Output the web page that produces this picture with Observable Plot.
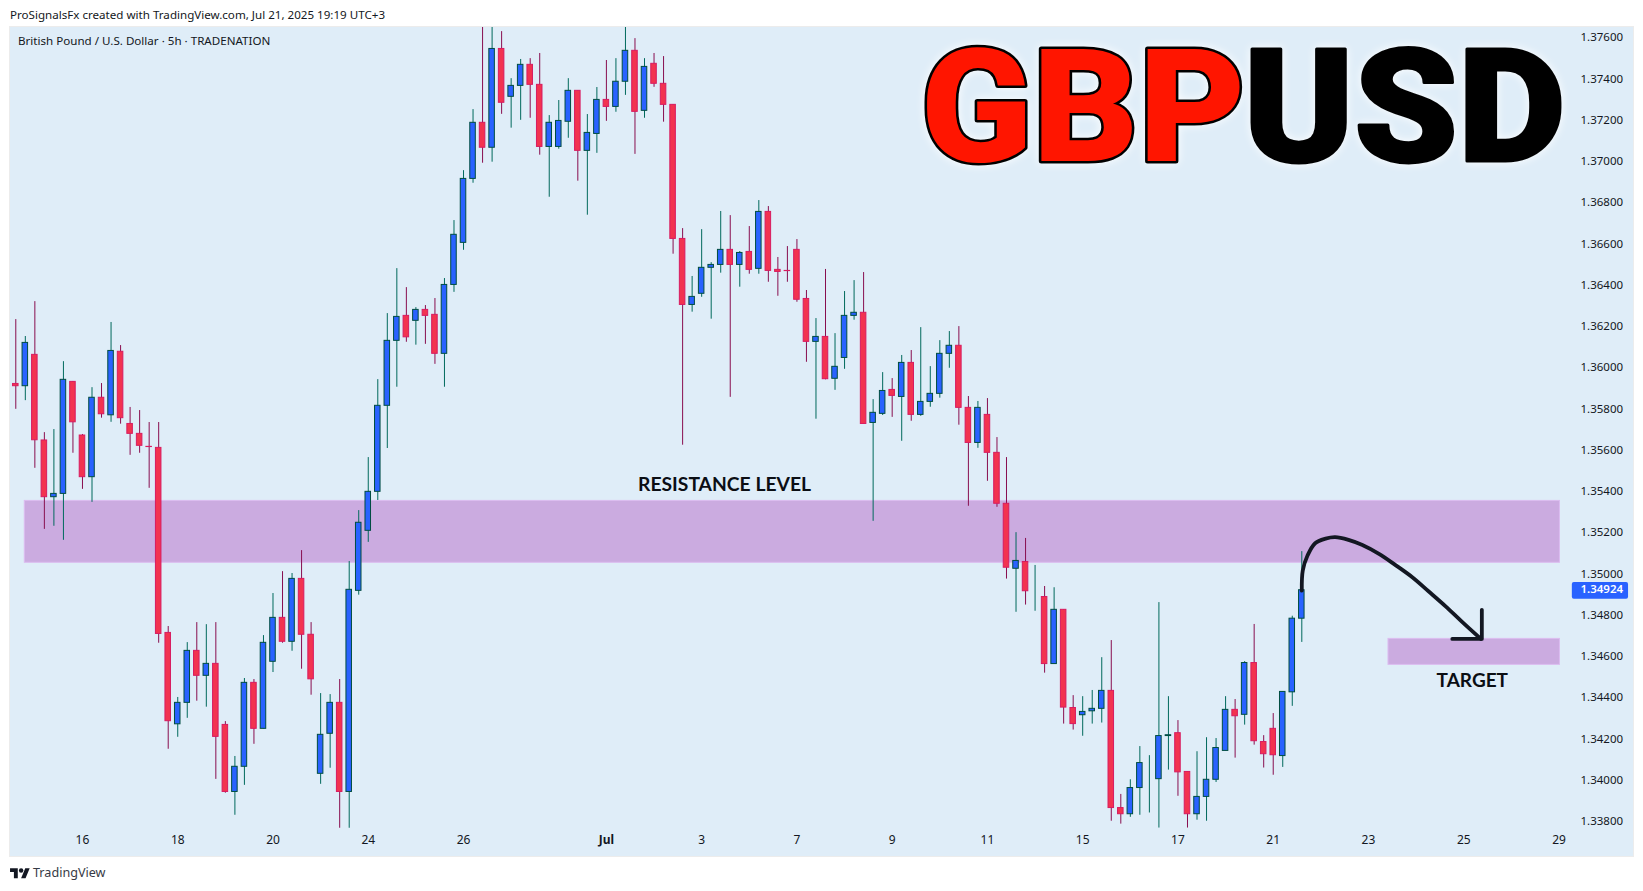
<!DOCTYPE html>
<html>
<head>
<meta charset="utf-8">
<script src="https://cdn.jsdelivr.net/npm/d3@7"></script>
<script src="https://cdn.jsdelivr.net/npm/@observablehq/plot@0.6"></script>
<style>
html,body{margin:0;padding:0;background:#fff;width:1643px;height:891px;overflow:hidden}
#head{position:absolute;left:10px;top:7px;font:11.6px "Noto Sans",sans-serif;color:#131722;white-space:nowrap}
#chart{position:absolute;left:10px;top:27px}
#chart svg{display:block;outline:1px solid #ececec}
#logo{position:absolute;left:10px;top:866px}
#foot{position:absolute;left:33px;top:864px;font:12.6px "Noto Sans",sans-serif;color:#363a45;white-space:nowrap}
</style>
</head>
<body>
<div id="head">ProSignalsFx created with TradingView.com, Jul 21, 2025 19:19 UTC+3</div>
<div id="chart"></div>
<svg id="logo" width="20" height="15.5" viewBox="0 0 36 28"><path fill="#131722" d="M14 22H7V11H0V4h14v18zM28 22h-8l7.5-18h8L28 22z"/><circle fill="#131722" cx="20" cy="8" r="4"/></svg>
<div id="foot">TradingView</div>
<script>
const high=[1.36236,1.36154,1.36323,1.35688,1.35703,1.36032,1.35936,1.35679,1.35906,1.35926,1.36222,1.36110,1.35810,1.35795,1.35737,1.35737,1.34748,1.34404,1.34670,1.34767,1.34757,1.34767,1.34287,1.34118,1.34496,1.34491,1.34704,1.34908,1.35014,1.35005,1.35116,1.34767,1.34423,1.34418,1.34491,1.35063,1.35310,1.35567,1.35945,1.36265,1.36483,1.36391,1.36294,1.36304,1.36338,1.36435,1.36716,1.36958,1.37254,1.37661,1.37676,1.37632,1.37404,1.37497,1.37501,1.37526,1.37225,1.37298,1.37404,1.37345,1.37230,1.37361,1.37492,1.37501,1.37652,1.37598,1.37501,1.37526,1.37511,1.37277,1.36677,1.36445,1.36672,1.36512,1.36760,1.36740,1.36566,1.36687,1.36813,1.36784,1.36537,1.36590,1.36624,1.36377,1.36241,1.36479,1.36168,1.36372,1.36425,1.36464,1.35848,1.35979,1.35950,1.36062,1.36086,1.36197,1.36008,1.36134,1.36178,1.36202,1.35863,1.35839,1.35853,1.35664,1.35567,1.35203,1.35175,1.35044,1.34942,1.34936,1.34829,1.34413,1.34408,1.34438,1.34597,1.34680,1.33934,1.34005,1.34166,1.34122,1.34864,1.34408,1.34292,1.34043,1.34141,1.34209,1.34205,1.34408,1.34394,1.34578,1.34758,1.34219,1.34326,1.34431,1.34798,1.35111];
const open=[1.35924,1.35913,1.36065,1.35650,1.35375,1.35391,1.35934,1.35674,1.35472,1.35857,1.35772,1.36080,1.35730,1.35682,1.35619,1.35614,1.34717,1.34274,1.34378,1.34630,1.34509,1.34567,1.34271,1.33946,1.34068,1.34475,1.34252,1.34577,1.34790,1.34674,1.34979,1.34708,1.34034,1.34228,1.34378,1.33946,1.34921,1.35212,1.35401,1.35818,1.36133,1.36254,1.36230,1.36283,1.36259,1.36070,1.36404,1.36608,1.36918,1.37190,1.37069,1.37548,1.37316,1.37369,1.37471,1.37374,1.37073,1.37073,1.37195,1.37345,1.37054,1.37136,1.37301,1.37267,1.37389,1.37539,1.37248,1.37476,1.37379,1.37277,1.36627,1.36307,1.36361,1.36487,1.36501,1.36574,1.36501,1.36564,1.36482,1.36758,1.36477,1.36472,1.36574,1.36336,1.36128,1.36152,1.35949,1.36050,1.36254,1.36269,1.35735,1.35779,1.35895,1.35861,1.36026,1.35774,1.35837,1.35876,1.36070,1.36109,1.35808,1.35638,1.35774,1.35590,1.35343,1.35028,1.35061,1.34890,1.34891,1.34566,1.34829,1.34353,1.34318,1.34337,1.34349,1.34436,1.33868,1.33838,1.33965,1.34008,1.34008,1.34217,1.34231,1.34043,1.33838,1.33922,1.34005,1.34145,1.34344,1.34320,1.34571,1.34188,1.34252,1.34120,1.34429,1.34786];
const close=[1.35913,1.36123,1.35651,1.35375,1.35391,1.35944,1.35738,1.35472,1.35857,1.35777,1.36084,1.35758,1.35682,1.35624,1.35618,1.34712,1.34289,1.34378,1.34630,1.34509,1.34567,1.34213,1.33946,1.34068,1.34475,1.34252,1.34669,1.34790,1.34674,1.34979,1.34708,1.34492,1.34223,1.34378,1.33946,1.34926,1.35251,1.35401,1.35818,1.36133,1.36249,1.36150,1.36283,1.36254,1.36070,1.36404,1.36647,1.36918,1.37190,1.37069,1.37548,1.37287,1.37369,1.37471,1.37374,1.37073,1.37190,1.37199,1.37345,1.37054,1.37141,1.37301,1.37267,1.37389,1.37539,1.37243,1.37461,1.37379,1.37277,1.36627,1.36307,1.36346,1.36487,1.36501,1.36574,1.36501,1.36559,1.36477,1.36758,1.36472,1.36467,1.36471,1.36332,1.36128,1.36152,1.35947,1.36007,1.36254,1.36269,1.35730,1.35784,1.35890,1.35866,1.36026,1.35774,1.35837,1.35876,1.36070,1.36109,1.35808,1.35638,1.35808,1.35590,1.35343,1.35033,1.35066,1.34919,1.34890,1.34566,1.34829,1.34355,1.34275,1.34334,1.34349,1.34436,1.33868,1.33838,1.33965,1.34086,1.34008,1.34217,1.34221,1.34041,1.33838,1.33922,1.34005,1.34159,1.34344,1.34313,1.34571,1.34192,1.34129,1.34124,1.34431,1.34786,1.34924];
const low=[1.35801,1.35843,1.35515,1.35219,1.35234,1.35166,1.35588,1.35413,1.35350,1.35758,1.35738,1.35729,1.35578,1.35588,1.35418,1.34667,1.34153,1.34211,1.34303,1.34386,1.34357,1.34007,1.33940,1.33833,1.33978,1.34177,1.34252,1.34525,1.34667,1.34628,1.34541,1.34415,1.33983,1.34061,1.33770,1.33770,1.34900,1.35156,1.35359,1.35611,1.35908,1.36126,1.36112,1.36116,1.36019,1.35908,1.36368,1.36572,1.36897,1.36994,1.36999,1.37231,1.37164,1.37202,1.37212,1.37033,1.36829,1.37062,1.37115,1.36907,1.36742,1.37042,1.37197,1.37241,1.37323,1.37037,1.37212,1.37362,1.37193,1.36553,1.35627,1.36272,1.36344,1.36238,1.36461,1.35859,1.36393,1.36456,1.36456,1.36417,1.36349,1.36417,1.36320,1.36029,1.35753,1.35944,1.35893,1.35995,1.36233,1.35730,1.35258,1.35771,1.35762,1.35646,1.35743,1.35767,1.35811,1.35855,1.36000,1.35724,1.35331,1.35612,1.35452,1.35326,1.34978,1.34817,1.34852,1.34822,1.34522,1.34566,1.34275,1.34246,1.34216,1.34275,1.34280,1.33804,1.33790,1.33823,1.33833,1.33844,1.33771,1.34052,1.33925,1.33771,1.33809,1.33804,1.33992,1.34145,1.34110,1.34270,1.34173,1.34062,1.34027,1.34065,1.34361,1.34671];
const yTicks=[1.338,1.34,1.342,1.344,1.346,1.348,1.35,1.352,1.354,1.356,1.358,1.36,1.362,1.364,1.366,1.368,1.37,1.372,1.374,1.376];
const xTickBars=[7,17,27,37,47,72,82,92,102,112,122,132,142,152,162];
const xTickNames=["16","18","20","24","26","3","7","9","11","15","17","21","23","25","29"];
const monthBar=[62];
const monthName=["Jul"];
const zoneBars=[0.945,162.1];
const resistance=[1.35357,1.35057];
const targetBars=[144.1,162.1];
const targetZone=[1.34688,1.34562];
const lastPrice=1.34924;
const tagBars=[163.4,169.3];
const tagPrices=[1.34961,1.34880];
const curveBars=[135,135.1,135.6,136.4,137.5,138.5,139.9,141.3,143.1,144.8,146.6,148.3,150.1,151.8,153.8];
const curvePrices=[1.34922,1.35019,1.35092,1.35152,1.35174,1.35181,1.35168,1.35144,1.351,1.35047,1.34987,1.34919,1.34846,1.34772,1.34688];
const headBars=[153.9,153.9,150.8];
const headPrices=[1.34829,1.34688,1.34688];

const bars=high.map((h,i)=>({i,high:h,low:low[i],open:open[i],close:close[i]}));
const up=bars.filter(d=>d.close>=d.open);
const down=bars.filter(d=>d.close<d.open);
const curve=curveBars.map((x,k)=>({x,y:curvePrices[k]}));
const head=headBars.map((x,k)=>({x,y:headPrices[k]}));
const half=0.29;
const ink="#131722";
const axisFont={fontFamily:"Noto Sans, sans-serif",fontSize:11.5,fill:ink};
const candle=(rows,wick,edge,body)=>[
  Plot.ruleX(rows,{x:"i",y1:"low",y2:"high",stroke:wick,strokeWidth:1,clip:true}),
  Plot.rect(rows,{x1:d=>d.i-half,x2:d=>d.i+half,y1:d=>Math.min(d.open,d.close),y2:d=>Math.max(d.open,d.close),fill:body,stroke:edge,strokeWidth:1,clip:true})
];
const band=(xs,ys)=>Plot.rect([0],{x1:()=>xs[0],x2:()=>xs[1],y1:()=>ys[1],y2:()=>ys[0],fill:"#cbabe0",stroke:"#dcbcf0",strokeWidth:1});
const chart=Plot.plot({
  width:1623,height:829,marginLeft:0,marginRight:74.5,marginTop:0,marginBottom:27,
  style:{background:"#dfedf8",overflow:"hidden"},
  x:{type:"linear",domain:[-0.556,162]},
  y:{type:"linear",domain:[1.33764,1.37652]},
  marks:[
    band(zoneBars,resistance),
    band(targetBars,targetZone),
    ...candle(up,"#00695c","#004d40","#2962ff"),
    ...candle(down,"#880e4f","#d81b60","#f23350"),
    Plot.axisY({anchor:"right",ticks:yTicks,tickSize:0,tickPadding:21.5,dy:-0.5,tickFormat:d=>d.toFixed(5),label:null,...axisFont}),
    Plot.axisX({ticks:xTickBars,tickSize:0,tickPadding:6,tickFormat:d=>xTickNames[xTickBars.indexOf(d)],label:null,...axisFont,fontSize:12}),
    Plot.axisX({ticks:monthBar,tickSize:0,tickPadding:6,tickFormat:()=>monthName[0],label:null,...axisFont,fontSize:12,fontWeight:"bold"}),
    Plot.rect([0],{x1:()=>tagBars[0],x2:()=>tagBars[1],y1:()=>tagPrices[1],y2:()=>tagPrices[0],fill:"#2962ff",rx:2,clip:false}),
    Plot.text([lastPrice.toFixed(5)],{x:()=>164.25,y:()=>lastPrice,dy:-1,text:d=>d,textAnchor:"start",fill:"#fff",fontFamily:"Noto Sans, sans-serif",fontSize:11.5,fontWeight:600}),
    Plot.text(["British Pound / U.S. Dollar · 5h · TRADENATION"],{frameAnchor:"top-left",dx:7.5,dy:9,text:d=>d,fontFamily:"Noto Sans, sans-serif",fontSize:11.6,fill:ink,textAnchor:"start"}),
    Plot.text(["RESISTANCE LEVEL"],{x:()=>74.4,y:()=>1.35433,text:d=>d,fontFamily:"Lato, sans-serif",fontSize:19.3,fontWeight:700,fill:"#0b0e14"}),
    Plot.text(["TARGET"],{x:()=>152.9,y:()=>1.34486,text:d=>d,fontFamily:"Lato, sans-serif",fontSize:19,fontWeight:700,fill:"#0b0e14"}),
    Plot.line(curve,{x:"x",y:"y",curve:"catmull-rom",stroke:ink,strokeWidth:3.8,strokeLinecap:"round"}),
    Plot.line(head,{x:"x",y:"y",curve:"linear",stroke:ink,strokeWidth:3.8,strokeLinecap:"round",strokeLinejoin:"round"}),
    Plot.text(["GBP"],{x:()=>94.98,y:()=>1.37249,text:d=>d,textAnchor:"start",fontFamily:"Roboto, sans-serif",fontSize:158,fontWeight:900,fill:"#ff1500",stroke:"#000",strokeWidth:5,strokeLinejoin:"round",imageFilter:"drop-shadow(0 0 5px #fff)"}),
    Plot.text(["USD"],{x:()=>128.87,y:()=>1.37249,text:d=>d,textAnchor:"start",fontFamily:"Roboto, sans-serif",fontSize:158,fontWeight:900,fill:"#000",stroke:"#000",strokeWidth:3,strokeLinejoin:"round",imageFilter:"drop-shadow(0 0 5px #fff)"})
  ]
});
document.getElementById("chart").appendChild(chart);
const stretch=(label,factor)=>d3.select(chart).selectAll("text").filter(function(){return this.textContent===label;}).each(function(){
  const n=this.getComputedTextLength();
  d3.select(this).attr("textLength",n*factor).attr("lengthAdjust","spacingAndGlyphs").style("paint-order","stroke");
});
stretch("GBP",1.04);
stretch("USD",1.053);
</script>
</body>
</html>
